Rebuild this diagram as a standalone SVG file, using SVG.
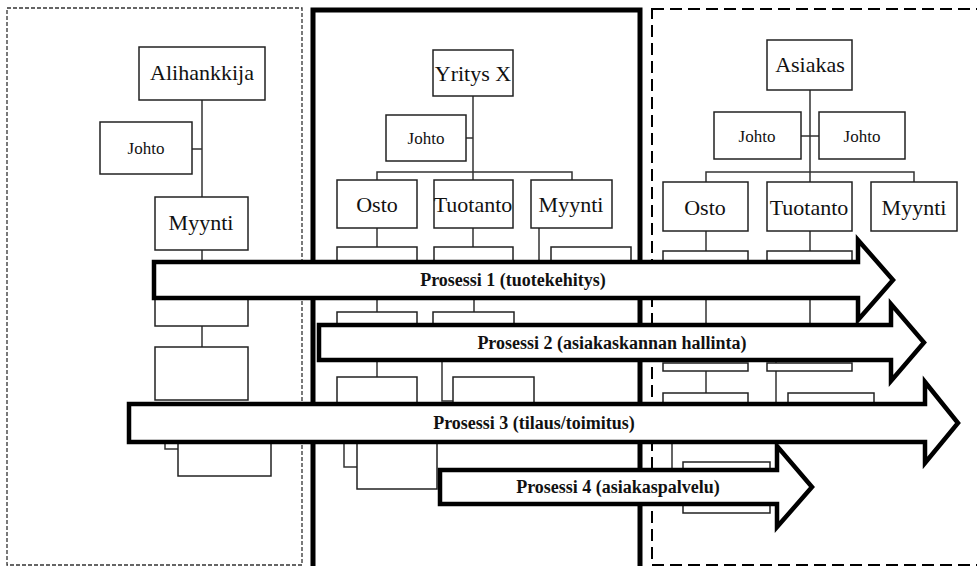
<svg xmlns="http://www.w3.org/2000/svg" width="977" height="566" viewBox="0 0 977 566">
  <style>
    .box { fill: #fff; stroke: #222; stroke-width: 1.5; }
    .ln { fill: none; stroke: #333; stroke-width: 1.5; }
    .lbl { font-family: "Liberation Serif", "Times New Roman", serif; fill: #111; text-anchor: middle; }
    .big { font-size: 22px; }
    .small { font-size: 17px; }
    .arrow { fill: #fff; stroke: #000; stroke-width: 4.5; stroke-linejoin: miter; }
    .alabel { font-family: "Liberation Serif", "Times New Roman", serif; font-size: 18px; font-weight: bold; fill: #111; text-anchor: middle; }
  </style>
  <rect width="977" height="566" fill="#fff"/>

  <!-- organisation frames -->
  <g id="frames">
    <rect x="7" y="8" width="295" height="557" fill="none" stroke="#333" stroke-width="1.3" stroke-dasharray="4 2"/>
    <rect x="313" y="10" width="327" height="565" fill="none" stroke="#000" stroke-width="5"/>
    <rect x="652" y="9" width="340" height="556" fill="none" stroke="#000" stroke-width="2" stroke-dasharray="12 6"/>
  </g>

  <!-- org chart connectors -->
  <g id="connectors">
    <!-- Alihankkija -->
    <path class="ln" d="M202 100 V197 M192 149 H202 M202 250 V262 M202 326 V347"/>
    <path class="ln" d="M165 442 V449 H178"/>
    <!-- Yritys X -->
    <path class="ln" d="M473 96 V180 M466 138 H473 M377 180 V172 H572 V180"/>
    <path class="ln" d="M377 228 V247 M473 228 V247 M539 228 V262"/>
    <path class="ln" d="M377 298 V312 M474 298 V312 M377 360 V377"/>
    <path class="ln" d="M442 360 V401 H453"/>
    <path class="ln" d="M344 442 V467 H357"/>
    <!-- Asiakas -->
    <path class="ln" d="M810 90 V182 M801 136 H819 M706 182 V172 H914 V182"/>
    <path class="ln" d="M706 231 V251 M810 231 V251 M706 298 V325 M810 298 V325"/>
    <path class="ln" d="M706 371 V393 M776 362 V404 M672 442 V470"/>
  </g>

  <!-- Alihankkija -->
  <g id="alihankkija">
    <rect class="box" x="139" y="47" width="126" height="53"/>
    <text class="lbl big" x="202" y="80">Alihankkija</text>
  </g>
  <g id="alihankkija-johto">
    <rect class="box" x="100" y="122" width="92" height="52"/>
    <text class="lbl small" x="146" y="154">Johto</text>
  </g>
  <g id="alihankkija-myynti">
    <rect class="box" x="155" y="197" width="93" height="53"/>
    <text class="lbl big" x="201" y="230">Myynti</text>
  </g>
  <g id="alihankkija-units">
    <rect class="box" x="155" y="290" width="93" height="36"/>
    <rect class="box" x="155" y="347" width="93" height="53"/>
    <rect class="box" x="178" y="442" width="93" height="34"/>
  </g>

  <!-- Yritys X -->
  <g id="yritys-x">
    <rect class="box" x="433" y="50" width="80" height="46"/>
    <text class="lbl big" x="473" y="81">Yritys X</text>
  </g>
  <g id="yritys-johto">
    <rect class="box" x="386" y="115" width="80" height="46"/>
    <text class="lbl small" x="426" y="144">Johto</text>
  </g>
  <g id="yritys-osto">
    <rect class="box" x="337" y="180" width="80" height="48"/>
    <text class="lbl big" x="377" y="212">Osto</text>
  </g>
  <g id="yritys-tuotanto">
    <rect class="box" x="434" y="180" width="79" height="48"/>
    <text class="lbl big" x="473" y="212">Tuotanto</text>
  </g>
  <g id="yritys-myynti">
    <rect class="box" x="531" y="180" width="81" height="48"/>
    <text class="lbl big" x="571" y="212">Myynti</text>
  </g>
  <g id="yritys-units">
    <rect class="box" x="337" y="247" width="80" height="20"/>
    <rect class="box" x="434" y="247" width="79" height="20"/>
    <rect class="box" x="551" y="247" width="80" height="20"/>
    <rect class="box" x="337" y="312" width="80" height="20"/>
    <rect class="box" x="433" y="312" width="81" height="20"/>
    <rect class="box" x="337" y="377" width="80" height="30"/>
    <rect class="box" x="453" y="377" width="81" height="30"/>
    <rect class="box" x="357" y="440" width="80" height="49"/>
  </g>

  <!-- Asiakas -->
  <g id="asiakas">
    <rect class="box" x="767" y="40" width="85" height="50"/>
    <text class="lbl big" x="810" y="72">Asiakas</text>
  </g>
  <g id="asiakas-johto-1">
    <rect class="box" x="714" y="112" width="87" height="47"/>
    <text class="lbl small" x="757" y="142">Johto</text>
  </g>
  <g id="asiakas-johto-2">
    <rect class="box" x="819" y="112" width="86" height="47"/>
    <text class="lbl small" x="862" y="142">Johto</text>
  </g>
  <g id="asiakas-osto">
    <rect class="box" x="663" y="182" width="85" height="49"/>
    <text class="lbl big" x="705" y="215">Osto</text>
  </g>
  <g id="asiakas-tuotanto">
    <rect class="box" x="767" y="182" width="85" height="49"/>
    <text class="lbl big" x="809" y="215">Tuotanto</text>
  </g>
  <g id="asiakas-myynti">
    <rect class="box" x="871" y="182" width="86" height="49"/>
    <text class="lbl big" x="914" y="215">Myynti</text>
  </g>
  <g id="asiakas-units">
    <rect class="box" x="663" y="251" width="85" height="15"/>
    <rect class="box" x="767" y="251" width="85" height="15"/>
    <rect class="box" x="663" y="363" width="85" height="8"/>
    <rect class="box" x="767" y="363" width="85" height="8"/>
    <rect class="box" x="663" y="393" width="85" height="15"/>
    <rect class="box" x="788" y="393" width="86" height="15"/>
    <rect class="box" x="683" y="462" width="87" height="51"/>
  </g>

  <!-- process arrows -->
  <g id="prosessi-1">
    <path class="arrow" d="M154 262 H858 V240 L893 280 L858 320 V298 H154 Z"/>
    <text class="alabel" x="513" y="286">Prosessi 1 (tuotekehitys)</text>
  </g>
  <g id="prosessi-2">
    <path class="arrow" d="M319 325 H891 V304 L924 342.5 L891 381 V360 H319 Z"/>
    <text class="alabel" x="612" y="349">Prosessi 2 (asiakaskannan hallinta)</text>
  </g>
  <g id="prosessi-3">
    <path class="arrow" d="M129 404 H925 V382 L958 423 L925 463 V442 H129 Z"/>
    <text class="alabel" x="534" y="429">Prosessi 3 (tilaus/toimitus)</text>
  </g>
  <g id="prosessi-4">
    <path class="arrow" d="M440 470 H777 V446 L812 487 L777 527 V504 H440 Z"/>
    <text class="alabel" x="618" y="493">Prosessi 4 (asiakaspalvelu)</text>
  </g>
</svg>
